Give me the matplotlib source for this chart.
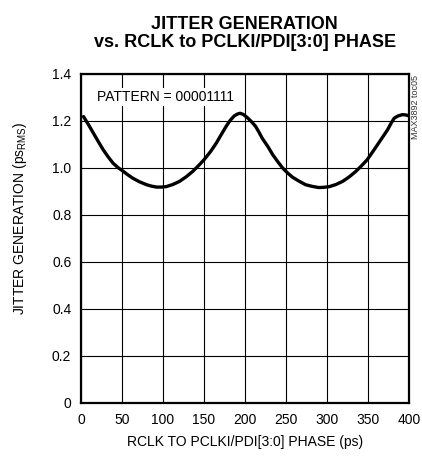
import matplotlib
matplotlib.use('Agg')
import matplotlib.pyplot as plt
from matplotlib import font_manager

# phase (ps) vs jitter generation (ps RMS)
phase = [3, 9, 15, 21, 27, 33, 39, 45, 50, 56, 63, 71, 80, 86, 92, 98, 104, 112,
         120, 128, 136, 143, 150, 158, 165, 171, 177, 182, 187, 191, 194, 198,
         203, 208, 213, 217, 221, 228, 234, 240, 246, 252, 258, 266, 274, 282,
         290, 296, 303, 311, 319, 327, 335, 342, 349, 356, 363, 369, 374, 378,
         382, 387, 392, 396, 400]
jitter = [1.218, 1.184, 1.148, 1.112, 1.077, 1.047, 1.020, 1.001, 0.989, 0.973,
          0.956, 0.941, 0.928, 0.922, 0.918, 0.918, 0.920, 0.929, 0.942, 0.961,
          0.984, 1.008, 1.034, 1.069, 1.105, 1.141, 1.176, 1.202, 1.221, 1.229,
          1.232, 1.227, 1.213, 1.196, 1.176, 1.152, 1.126, 1.090, 1.055, 1.026,
          0.999, 0.978, 0.960, 0.943, 0.928, 0.921, 0.916, 0.917, 0.920, 0.929,
          0.942, 0.961, 0.984, 1.008, 1.034, 1.069, 1.105, 1.136, 1.162, 1.188,
          1.211, 1.221, 1.226, 1.225, 1.221]

xticks = [0, 50, 100, 150, 200, 250, 300, 350, 400]
yticks = [0, 0.2, 0.4, 0.6, 0.8, 1.0, 1.2, 1.4]
ytick_labels = ['0', '0.2', '0.4', '0.6', '0.8', '1.0', '1.2', '1.4']

names = set(f.name for f in font_manager.fontManager.ttflist)
fam = 'Liberation Sans Narrow' if 'Liberation Sans Narrow' in names else 'Liberation Sans'
plt.rcParams['font.family'] = [fam, 'DejaVu Sans']
plt.rcParams['mathtext.fontset'] = 'custom'
plt.rcParams['mathtext.rm'] = fam

fig = plt.figure(figsize=(4.22, 4.61), dpi=100)
ax = fig.add_axes([0.192, 0.126, 0.777, 0.714])

ax.plot(phase, jitter, color='black', lw=2.4, solid_capstyle='round',
        solid_joinstyle='round', zorder=3)

ax.set_xlim(0, 400)
ax.set_ylim(0, 1.4)
ax.set_xticks(xticks)
ax.set_yticks(yticks)
ax.set_yticklabels(ytick_labels)
ax.tick_params(length=0, labelsize=10, pad=7)
ax.grid(True, color='black', lw=0.8)
for s in ax.spines.values():
    s.set_linewidth(1.6)

ax.text(19, 1.302, 'PATTERN = 00001111', fontsize=10, va='center', ha='left',
        bbox=dict(facecolor='white', edgecolor='none', pad=1.5), zorder=4)

ax.set_xlabel('RCLK TO PCLKI/PDI[3:0] PHASE (ps)', fontsize=10, labelpad=6)
ax.set_ylabel(r'JITTER GENERATION (ps$_{\mathrm{RMS}}$)', fontsize=10)
ax.yaxis.set_label_coords(-0.16, 0.56)

fig.text(0.58, 0.965, 'JITTER GENERATION\nvs. RCLK to PCLKI/PDI[3:0] PHASE',
         ha='center', va='top', fontsize=13, fontweight='bold', linespacing=1.05)
fig.text(0.984, 0.838, 'MAX3892 toc05', rotation=90, ha='center', va='top',
         fontsize=6.5, color='#333333')

fig.savefig('out.png', dpi=100)
